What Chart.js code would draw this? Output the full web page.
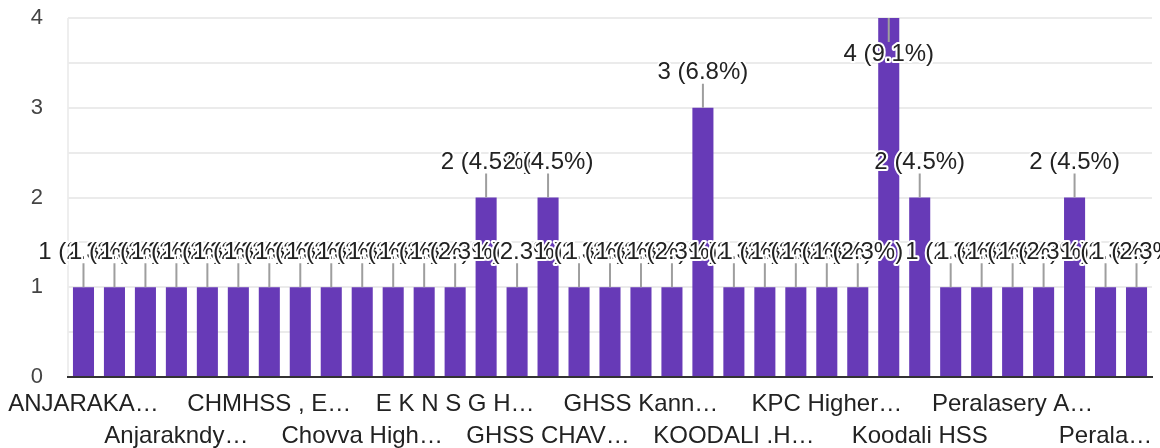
<!DOCTYPE html>
<html>
<head>
<meta charset="utf-8">
<script src="https://cdn.jsdelivr.net/npm/chart.js@4/dist/chart.umd.min.js"></script>
<style>
  html, body { margin: 0; padding: 0; background: #fff; }
  #wrap { width: 1160px; height: 448px; }
</style>
</head>
<body>
<div id="wrap"><canvas id="chart"></canvas></div>
<script>
// school names (answers), sorted like the form summary
const categories = [
	"ANJARAKANDY HSS", "ANJARAKANDY HIGHER SECONDARY", "Anjarakandy HSS", "Anjarakndy Higher Secondary School",
	"CHMHSS", "CHMHSS Elayavoor", "CHMHSS , Elayavoor", "Chovva HSS", "Chovva HSS Kannur",
	"Chovva Higher Secondary School", "DIS Kannur", "E K N S G H S S", "E K N S G H S S Vattiyara",
	"EKNSGHSS", "GHSS CHALA", "GHSS CHAVASSERY", "GHSS Chala", "GHSS Kadachira", "GHSS Kannadiparamba",
	"GVHSS Kannur", "KOODALI HSS", "KOODALI .H.S.S", "KOODALI HIGHER SECONDARY", "KPC HSS",
	"KPC Higher Secondary School", "Kadachira HSS", "Koodali GHSS", "Koodali HSS",
	"Koodali Higher Secondary School", "Mambaram HSS", "Peralasery AKG HSS", "Peralassery GHSS",
	"Peralassery HSS", "Peralassery Higher Secondary", "Peralassery HS"
];
const responses = [1, 1, 1, 1, 1, 1, 1, 1, 1, 1, 1, 1, 1, 2, 1, 2, 1, 1, 1, 1, 3, 1, 1, 1, 1, 1, 4, 2, 1, 1, 1, 1, 2, 1, 1];
// labels that fit on the axis (every third answer, two staggered rows)
const tickLabels = [
	"ANJARAKA…", "Anjarakndy…", "CHMHSS , E…", "Chovva High…", "E K N S G H…", "GHSS CHAV…",
	"GHSS Kann…", "KOODALI .H…", "KPC Higher…", "Koodali HSS", "Peralasery A…", "Perala…"
];
const yTicks = [0, 1, 2, 3, 4];

const total = responses.reduce((a, b) => a + b, 0);
const FONT = "'Liberation Sans', Arial, sans-serif";

// value (percent) annotation with a short stem above each bar
const barLabels = {
	id: "barLabels",
	afterDatasetsDraw(chart) {
		const ctx = chart.ctx;
		const bars = chart.getDatasetMeta(0).data;
		const top = chart.chartArea.top;
		ctx.save();
		ctx.font = "24px " + FONT;
		ctx.textAlign = "center";
		ctx.textBaseline = "middle";
		ctx.lineJoin = "round";
		bars.forEach((bar, i) => {
			const v = responses[i];
			const txt = v + " (" + (v / total * 100).toFixed(1) + "%)";
			let end = bar.y - 24, ty = end - 11;
			if (ty - 12 < top) { end = bar.y + 24; ty = end + 12; }
			ctx.strokeStyle = "#9e9e9e";
			ctx.lineWidth = 2;
			ctx.beginPath();
			ctx.moveTo(bar.x, bar.y);
			ctx.lineTo(bar.x, end);
			ctx.stroke();
			ctx.strokeStyle = "#fff";
			ctx.lineWidth = 4;
			ctx.strokeText(txt, bar.x, ty);
			ctx.fillStyle = "#222";
			ctx.fillText(txt, bar.x, ty);
		});
		ctx.restore();
	}
};

new Chart(document.getElementById("chart"), {
	type: "bar",
	data: {
		labels: categories,
		datasets: [{
			data: responses,
			backgroundColor: "#673ab7",
			barPercentage: 0.68,
			categoryPercentage: 1
		}]
	},
	options: {
		responsive: true,
		maintainAspectRatio: false,
		animation: false,
		layout: { padding: { top: 0, right: 8, left: 31, bottom: 0 } },
		plugins: { legend: { display: false }, tooltip: { enabled: false } },
		scales: {
			x: {
				offset: true,
				grid: {
					drawTicks: false,
					lineWidth: 2,
					color: (c) => (c.index === 0 || c.index === categories.length) ? "#eeeeee" : "rgba(0,0,0,0)"
				},
				border: { display: true, color: "#333", width: 2 },
				afterFit: (s) => { s.paddingLeft = 0; s.paddingRight = 0; s.height = 71; },
				ticks: {
					autoSkip: false,
					maxRotation: 0,
					padding: 11,
					color: "#222",
					font: { size: 24, family: FONT, lineHeight: 1.333 },
					callback: (v, i) => {
						if (i % 3 !== 0) return "";
						const k = i / 3;
						return k % 2 === 0 ? tickLabels[k] : ["", tickLabels[k]];
					}
				}
			},
			y: {
				min: 0,
				max: 4,
				grid: { drawTicks: false, lineWidth: 2, color: "#ebebeb" },
				border: { display: false },
				afterFit: (s) => { s.paddingTop = 18; s.paddingBottom = 0; s.width = 37; },
				ticks: {
					stepSize: 0.5,
					padding: 25,
					color: "#444",
					font: { size: 22, family: FONT },
					callback: (v) => yTicks.includes(v) ? String(v) : ""
				}
			}
		}
	},
	plugins: [barLabels]
});
</script>
</body>
</html>
